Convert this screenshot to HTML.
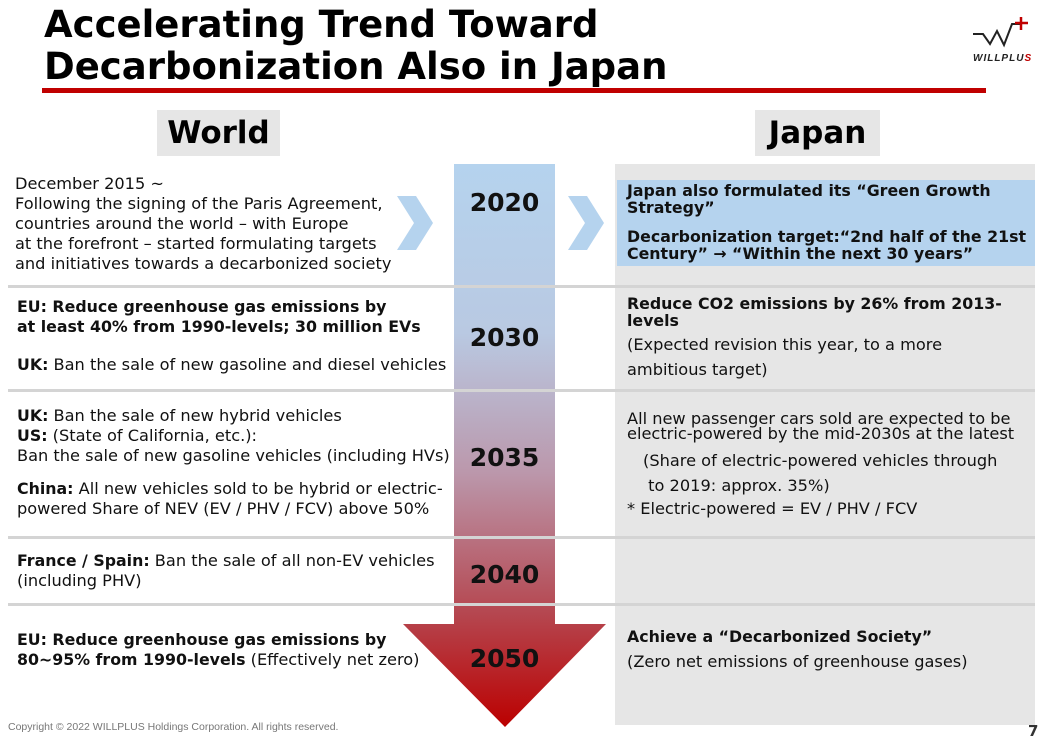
<!DOCTYPE html>
<html><head><meta charset="utf-8"><style>
*{margin:0;padding:0;box-sizing:border-box}
body{width:1049px;height:740px;background:#fff;position:relative;overflow:hidden;font-family:"DejaVu Sans","Liberation Sans",sans-serif;color:#111}
.a{position:absolute;white-space:nowrap}
.t{font-size:16.2px;line-height:20px}
b{font-weight:bold;font-size:15.8px}
.yr{position:absolute;left:454px;width:101px;text-align:center;font-weight:bold;font-size:25px}
.sep{position:absolute;left:8px;width:1027px;height:3px;background:#d4d4d4}
</style></head><body>
<div class="a" style="left:44px;top:4px;font-size:37px;font-weight:bold;line-height:42px;color:#000">Accelerating Trend Toward<br>Decarbonization Also in Japan</div>
<div class="a" style="left:42px;top:88px;width:944px;height:5px;background:#c00000"></div>
<svg class="a" style="left:970px;top:12px" width="72" height="52" viewBox="0 0 72 52"><path d="M3 22 H13 L20 32 L27 19 L34 33 L42 12 H50" fill="none" stroke="#222" stroke-width="2"/><path d="M51 5 V18 M45 11 H58" stroke="#c00000" stroke-width="2.5"/><text x="3" y="49" font-size="10" font-weight="bold" font-style="italic" font-family="Liberation Sans,sans-serif" fill="#222" letter-spacing="1">WILLPLU<tspan fill="#c00000">S</tspan></text></svg>

<div class="a" style="left:157px;top:110px;width:123px;height:46px;background:#e6e6e6;font-size:31px;font-weight:bold;text-align:center;line-height:46px;color:#000">World</div>
<div class="a" style="left:755px;top:110px;width:125px;height:46px;background:#e6e6e6;font-size:31px;font-weight:bold;text-align:center;line-height:46px;color:#000">Japan</div>

<div class="a" style="left:615px;top:164px;width:420px;height:561px;background:#e6e6e6"></div>
<div class="a" style="left:617px;top:180px;width:418px;height:86px;background:#b5d3ee"></div>

<svg class="a" style="left:0;top:0" width="1049" height="740">
<defs><linearGradient id="g" x1="0" y1="164" x2="0" y2="727" gradientUnits="userSpaceOnUse"><stop offset="0" stop-color="#b5d3ee"/><stop offset="0.3" stop-color="#b9c9e2"/><stop offset="0.55" stop-color="#bb97ab"/><stop offset="0.8" stop-color="#b5464f"/><stop offset="1" stop-color="#bb0000"/></linearGradient></defs>
<path d="M454 164 H555 V624 H606 L505 727 L403 624 H454 Z" fill="url(#g)"/>
<path d="M397 196 H416 L433 223 L416 250 H397 L414 223 Z" fill="#b5d3ee"/>
<path d="M568 196 H587 L604 223 L587 250 H568 L585 223 Z" fill="#b5d3ee"/>
</svg>
<div class="sep" style="top:285px"></div>
<div class="sep" style="top:389px"></div>
<div class="sep" style="top:536px"></div>
<div class="sep" style="top:603px"></div>

<div class="yr" style="top:188px">2020</div>
<div class="yr" style="top:323px">2030</div>
<div class="yr" style="top:443px">2035</div>
<div class="yr" style="top:560px">2040</div>
<div class="yr" style="top:644px">2050</div>

<div class="a t" style="left:15px;top:174px">December 2015 ~<br>Following the signing of the Paris Agreement,<br>countries around the world – with Europe<br>at the forefront – started formulating targets<br>and initiatives towards a decarbonized society</div>
<div class="a t" style="left:17px;top:297px"><b>EU: Reduce greenhouse gas emissions by<br>at least 40% from 1990-levels; 30 million EVs</b></div>
<div class="a t" style="left:17px;top:355px"><b>UK:</b> Ban the sale of new gasoline and diesel vehicles</div>
<div class="a t" style="left:17px;top:406px"><b>UK:</b> Ban the sale of new hybrid vehicles<br><b>US:</b> (State of California, etc.):<br>Ban the sale of new gasoline vehicles (including HVs)</div>
<div class="a t" style="left:17px;top:479px"><b>China:</b> All new vehicles sold to be hybrid or electric-<br>powered Share of NEV (EV / PHV / FCV) above 50%</div>
<div class="a t" style="left:17px;top:551px"><b>France / Spain:</b> Ban the sale of all non-EV vehicles<br>(including PHV)</div>
<div class="a t" style="left:17px;top:630px"><b>EU: Reduce greenhouse gas emissions by<br>80~95% from 1990-levels</b> (Effectively net zero)</div>

<div class="a t" style="left:627px;top:182px;line-height:17px"><b>Japan also formulated its “Green Growth<br>Strategy”</b></div>
<div class="a t" style="left:627px;top:228px;line-height:17px"><b>Decarbonization target:“2nd half of the 21st<br>Century” → “Within the next 30 years”</b></div>
<div class="a t" style="left:627px;top:295px;line-height:17px"><b>Reduce CO2 emissions by 26% from 2013-<br>levels</b></div>
<div class="a t" style="left:627px;top:332px;line-height:25px">(Expected revision this year, to a more<br>ambitious target)</div>
<div class="a t" style="left:627px;top:411px;line-height:15px">All new passenger cars sold are expected to be<br>electric-powered by the mid-2030s at the latest</div>
<div class="a t" style="left:643px;top:448px;line-height:25px">(Share of electric-powered vehicles through<br>&nbsp;to 2019: approx. 35%)</div>
<div class="a t" style="left:627px;top:499px">* Electric-powered = EV / PHV / FCV</div>
<div class="a t" style="left:627px;top:627px"><b>Achieve a “Decarbonized Society”</b></div>
<div class="a t" style="left:627px;top:652px">(Zero net emissions of greenhouse gases)</div>

<div class="a" style="left:8px;top:721px;font-size:10.5px;color:#777;font-family:'Liberation Sans',sans-serif">Copyright © 2022 WILLPLUS Holdings Corporation. All rights reserved.</div>
<div class="a" style="left:1028px;top:722px;font-size:15px;font-weight:bold;color:#333">7</div>
</body></html>
